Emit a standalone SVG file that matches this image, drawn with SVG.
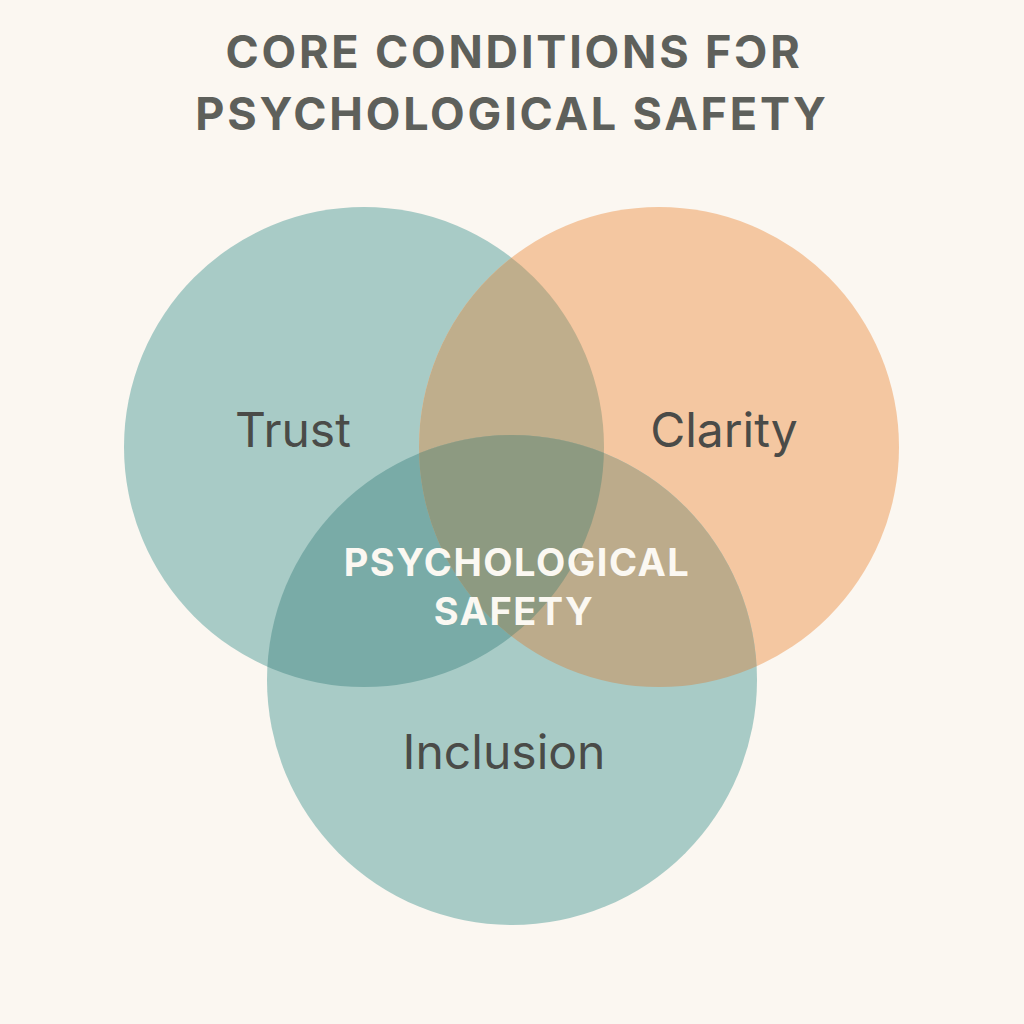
<svg xmlns="http://www.w3.org/2000/svg" width="1024" height="1024" viewBox="0 0 1024 1024">
<style>
.title{font-family:Inter,"Noto Sans","Liberation Sans",sans-serif;font-weight:700;font-size:45px;fill:#5e605b;letter-spacing:2.8px;text-anchor:middle}
.lbl{font-family:Inter,"Noto Sans","Liberation Sans",sans-serif;font-size:48px;fill:#4a4b48;text-anchor:middle}
.core{font-family:Inter,"Noto Sans","Liberation Sans",sans-serif;font-weight:700;font-size:38px;fill:#fbf8f2;letter-spacing:1.5px;text-anchor:middle}
</style>
<defs>
<clipPath id="cT"><circle cx="364" cy="447" r="240"/></clipPath>
<clipPath id="cC"><circle cx="659" cy="447" r="240"/></clipPath>
<clipPath id="cI"><circle cx="512" cy="680" r="245"/></clipPath>
</defs>
<rect width="1024" height="1024" fill="#fbf7f1"/>
<g id="title">
<text class="title" x="514" y="68">CORE CONDITIONS FƆR</text>
<text class="title" x="512" y="130">PSYCHOLOGICAL SAFETY</text>
</g>
<g id="trust"><circle cx="364" cy="447" r="240" fill="#a8cbc6"/></g>
<g id="clarity"><circle cx="659" cy="447" r="240" fill="#f4c7a1"/></g>
<g id="inclusion"><circle cx="512" cy="680" r="245" fill="#a8cbc6"/></g>
<g id="overlaps">
<circle cx="659" cy="447" r="240" fill="#bfae8c" clip-path="url(#cT)"/>
<circle cx="512" cy="680" r="245" fill="#79aba7" clip-path="url(#cT)"/>
<circle cx="512" cy="680" r="245" fill="#bcab8b" clip-path="url(#cC)"/>
<g clip-path="url(#cT)"><circle cx="512" cy="680" r="245" fill="#8d9a81" clip-path="url(#cC)"/></g>
</g>
<g id="labels">
<text class="lbl" x="293" y="447">Trust</text>
<text class="lbl" x="724" y="447">Clarity</text>
<text class="lbl" x="504" y="769">Inclusion</text>
</g>
<g id="core">
<text class="core" x="517" y="576">PSYCHOLOGICAL</text>
<text class="core" x="514" y="625">SAFETY</text>
</g>
<g id="connectors"/>
</svg>
